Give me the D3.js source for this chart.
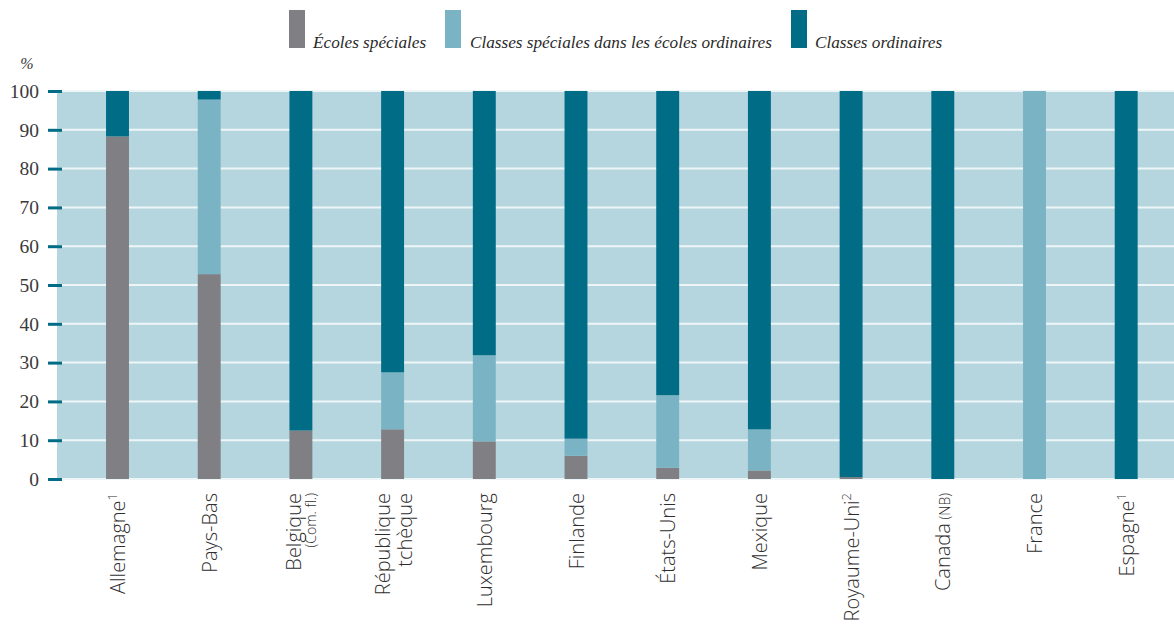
<!DOCTYPE html>
<html>
<head>
<meta charset="utf-8">
<script src="https://cdn.jsdelivr.net/npm/d3@7"></script>
<style>
  html, body { margin: 0; padding: 0; background: #fff; }
  svg { display: block; }
</style>
</head>
<body>
<svg id="chart" width="1174" height="624"></svg>
<script>
// ---- Data ----
const categories = ["Allemagne", "Pays-Bas", "Belgique", "République tchèque", "Luxembourg", "Finlande",
  "États-Unis", "Mexique", "Royaume-Uni", "Canada", "France", "Espagne"];
const ecolesSpeciales   = [88.3, 52.8, 12.5, 12.8, 9.7, 6.0, 2.9, 2.2, 0.5, 0, 0, 0];
const classesSpeciales  = [0, 45.0, 0, 14.7, 22.2, 4.4, 18.7, 10.6, 0, 0, 100, 0];
const classesOrdinaires = [11.7, 2.2, 87.5, 72.5, 68.1, 89.6, 78.4, 87.2, 99.5, 100, 0, 100];
const seriesNames = ["Écoles spéciales", "Classes spéciales dans les écoles ordinaires", "Classes ordinaires"];
const yTicks = [0, 10, 20, 30, 40, 50, 60, 70, 80, 90, 100];
// label parts
const labelLines = [
  {l1: "Allemagne", sup: "1"},
  {l1: "Pays-Bas"},
  {l1: "Belgique", l2small: "(Com. fl.)"},
  {l1: "République", l2: "tchèque"},
  {l1: "Luxembourg"},
  {l1: "Finlande"},
  {l1: "États-Unis"},
  {l1: "Mexique"},
  {l1: "Royaume-Uni", sup: "2"},
  {l1: "Canada", small: " (NB)"},
  {l1: "France"},
  {l1: "Espagne", sup: "1"}
];

const colors = ["#7f7f84", "#7ab4c4", "#006c86"];
const keys = ["ecoles", "speciales", "ordinaires"];

const rows = categories.map((c, i) => ({
  cat: c, ecoles: ecolesSpeciales[i], speciales: classesSpeciales[i], ordinaires: classesOrdinaires[i]
}));

const svg = d3.select("#chart");
const plot = {left: 57, right: 1174, top: 90, bottom: 480};

const x = d3.scaleBand().domain(categories).range([71.65, 1172.05]).paddingInner(0.75).paddingOuter(0.375);
const y = d3.scaleLinear().domain([0, 100]).range([479, 91]);

// background
svg.append("rect").attr("x", plot.left).attr("y", plot.top)
  .attr("width", plot.right - plot.left).attr("height", plot.bottom - plot.top)
  .attr("fill", "#b6d6df");

// gridlines
svg.append("g").selectAll("line").data(yTicks).join("line")
  .attr("x1", plot.left).attr("x2", plot.right)
  .attr("y1", d => y(d)).attr("y2", d => y(d))
  .attr("stroke", "#eef5f7").attr("stroke-width", 2);

// bars
const stack = d3.stack().keys(keys)(rows);
svg.append("g").selectAll("g").data(stack).join("g")
  .attr("fill", (d, i) => colors[i])
  .selectAll("rect").data(d => d).join("rect")
  .attr("x", d => x(d.data.cat))
  .attr("width", x.bandwidth())
  .attr("y", d => y(d[1]))
  .attr("height", d => Math.max(0, y(d[0]) - y(d[1])));

// y axis
const yAxis = d3.axisLeft(y).tickValues(yTicks).tickSize(14).tickPadding(9);
const gy = svg.append("g").attr("transform", "translate(62,0)").call(yAxis);
gy.select(".domain").remove();
gy.selectAll(".tick line").attr("stroke", "#006c86").attr("stroke-width", 3);
gy.selectAll(".tick text")
  .attr("font-family", "'Liberation Serif', 'DejaVu Serif', serif")
  .attr("font-size", 19.5).attr("fill", "#3a3a3a");

svg.append("text").attr("x", 27).attr("y", 69).attr("text-anchor", "middle")
  .attr("font-family", "'Liberation Serif', serif").attr("font-style", "italic")
  .attr("font-size", 16).attr("fill", "#3a3a3a").text("%");

// x labels
const labelFont = "'Open Sans', 'DejaVu Sans', sans-serif";
labelLines.forEach((lab, i) => {
  const cx = x(categories[i]) + x.bandwidth() / 2;
  const t = svg.append("text")
    .attr("transform", `translate(${cx},493) rotate(-90)`)
    .attr("text-anchor", "end")
    .attr("font-family", labelFont).attr("font-weight", 300)
    .attr("font-size", 20).attr("fill", "#2e2e2e");
  if (lab.l2) {
    t.append("tspan").attr("x", 0).attr("dy", -3).text(lab.l1);
    t.append("tspan").attr("x", 0).attr("dy", 22).text(lab.l2);
  } else if (lab.l2small) {
    t.append("tspan").attr("x", 0).attr("dy", 0).text(lab.l1);
    t.append("tspan").attr("x", 0).attr("dy", 15).attr("font-size", 14).text(lab.l2small);
  } else {
    t.append("tspan").attr("x", 0).attr("dy", 7.5).text(lab.l1);
    if (lab.small) t.append("tspan").attr("font-size", 14).text(lab.small);
    if (lab.sup) t.append("tspan").attr("font-size", 13).attr("dy", -8).text(lab.sup);
  }
});

// legend
const legendItems = [
  {rx: 289, tx: 313},
  {rx: 445, tx: 470},
  {rx: 791, tx: 815}
];
const lg = svg.append("g");
legendItems.forEach((it, i) => {
  lg.append("rect").attr("x", it.rx).attr("y", 10).attr("width", 16).attr("height", 38).attr("fill", colors[i]);
  lg.append("text").attr("x", it.tx).attr("y", 48)
    .attr("font-family", "'Liberation Serif', 'DejaVu Serif', serif").attr("font-style", "italic")
    .attr("font-size", 17.2).attr("fill", "#2a2a2a").text(seriesNames[i]);
});
</script>
</body>
</html>
